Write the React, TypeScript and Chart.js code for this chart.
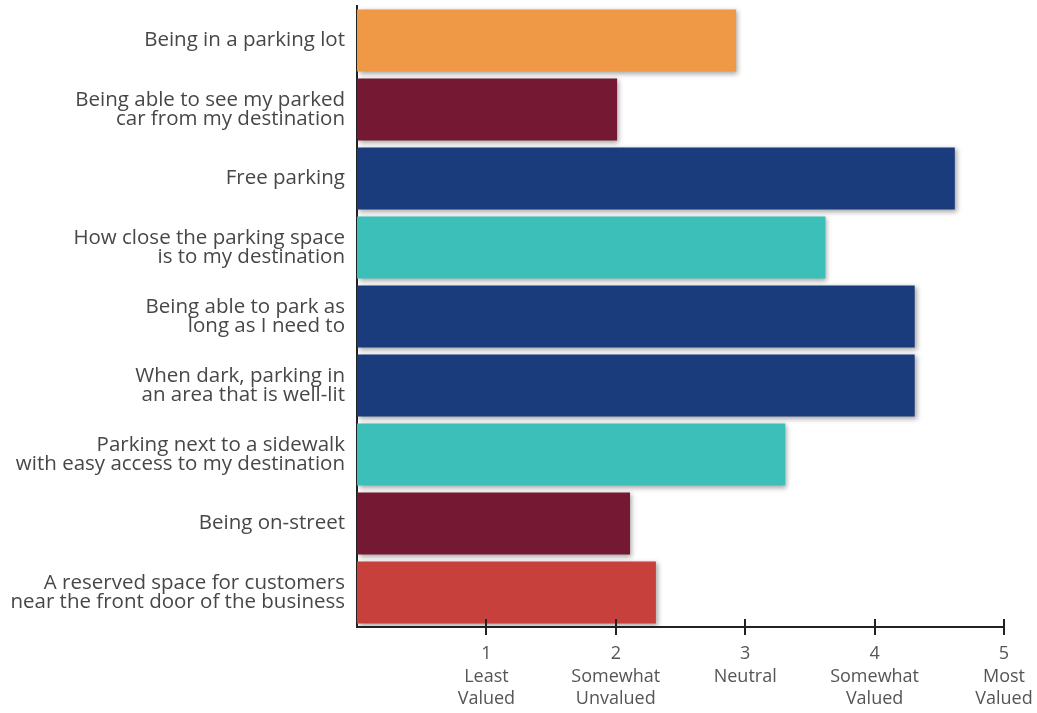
import React, { useEffect, useRef } from "react";
import { Chart, registerables } from "chart.js";

Chart.register(...registerables);

const categories: string[][] = [
  ["Being in a parking lot"],
  ["Being able to see my parked", "car from my destination"],
  ["Free parking"],
  ["How close the parking space", "is to my destination"],
  ["Being able to park as", "long as I need to"],
  ["When dark, parking in", "an area that is well-lit"],
  ["Parking next to a sidewalk", "with easy access to my destination"],
  ["Being on-street"],
  ["A reserved space for customers", "near the front door of the business"],
];

const values: number[] = [2.93, 2.01, 4.62, 3.62, 4.31, 4.31, 3.31, 2.11, 2.31];

const barColors: string[] = [
  "#EF9947",
  "#741833",
  "#1A3B7C",
  "#3CBFB8",
  "#1A3B7C",
  "#1A3B7C",
  "#3CBFB8",
  "#741833",
  "#C8403B",
];

const tickValues: number[] = [1, 2, 3, 4, 5];
const tickLabels: string[][] = [
  ["1", "Least", "Valued"],
  ["2", "Somewhat", "Unvalued"],
  ["3", "Neutral"],
  ["4", "Somewhat", "Valued"],
  ["5", "Most", "Valued"],
];

const FONT = "'Open Sans', 'Noto Sans', sans-serif";

export default function App() {
  const ref = useRef<HTMLCanvasElement | null>(null);

  useEffect(() => {
    if (!ref.current) return;

    const shadowPlugin = {
      id: "barShadow",
      beforeDatasetsDraw(chart: any) {
        const ctx = chart.ctx;
        ctx.save();
        ctx.shadowColor = "rgba(0,0,0,0.35)";
        ctx.shadowBlur = 5;
        ctx.shadowOffsetX = 2;
        ctx.shadowOffsetY = 2;
      },
      afterDatasetsDraw(chart: any) {
        chart.ctx.restore();
      },
    };

    const tickMarkPlugin = {
      id: "crossTicks",
      afterDraw(chart: any) {
        const ctx = chart.ctx;
        const xs = chart.scales.x;
        const bottom = chart.chartArea.bottom;
        ctx.save();
        ctx.strokeStyle = "#222";
        ctx.lineWidth = 2;
        tickValues.forEach((v) => {
          const px = Math.round(xs.getPixelForValue(v));
          ctx.beginPath();
          ctx.moveTo(px, bottom - 8);
          ctx.lineTo(px, bottom + 8);
          ctx.stroke();
        });
        ctx.restore();
      },
    };

    const chart = new Chart(ref.current, {
      type: "bar",
      data: {
        labels: categories,
        datasets: [
          {
            data: values,
            backgroundColor: barColors,
            borderWidth: 0,
            barPercentage: 0.9,
            categoryPercentage: 1.0,
          },
        ],
      },
      options: {
        indexAxis: "y",
        animation: false,
        responsive: false,
        maintainAspectRatio: false,
        layout: { padding: { top: 6, right: 33, left: 0, bottom: 0 } },
        plugins: {
          legend: { display: false },
          tooltip: { enabled: false },
        },
        scales: {
          x: {
            type: "linear",
            min: 0,
            max: 5,
            ticks: {
              stepSize: 1,
              maxRotation: 0,
              autoSkip: false,
              padding: 16,
              color: "#555",
              font: { family: FONT, size: 18, lineHeight: 1.24 },
              callback: (v: any) => {
                const i = tickValues.indexOf(Number(v));
                return i >= 0 ? tickLabels[i] : "";
              },
            },
            grid: { display: false, drawTicks: false },
            border: { display: true, color: "#222", width: 2 },
            afterFit: (s: any) => {
              s.height = 86;
              s.paddingLeft = 0;
              s.paddingRight = 0;
            },
          },
          y: {
            type: "category",
            ticks: {
              padding: 12,
              color: "#474747",
              autoSkip: false,
              font: { family: FONT, size: 20.5, lineHeight: 0.9 },
            },
            grid: { display: false, drawTicks: false },
            border: { display: true, color: "#222", width: 2 },
            afterFit: (s: any) => {
              s.width = 357;
              s.paddingTop = 0;
              s.paddingBottom = 0;
            },
          },
        },
      },
      plugins: [shadowPlugin, tickMarkPlugin],
    });

    return () => chart.destroy();
  }, []);

  return (
    <div style={{ position: "fixed", left: 0, top: 0, width: 1037, height: 713, background: "#fff" }}>
      <canvas ref={ref} width={1037} height={713} />
    </div>
  );
}
